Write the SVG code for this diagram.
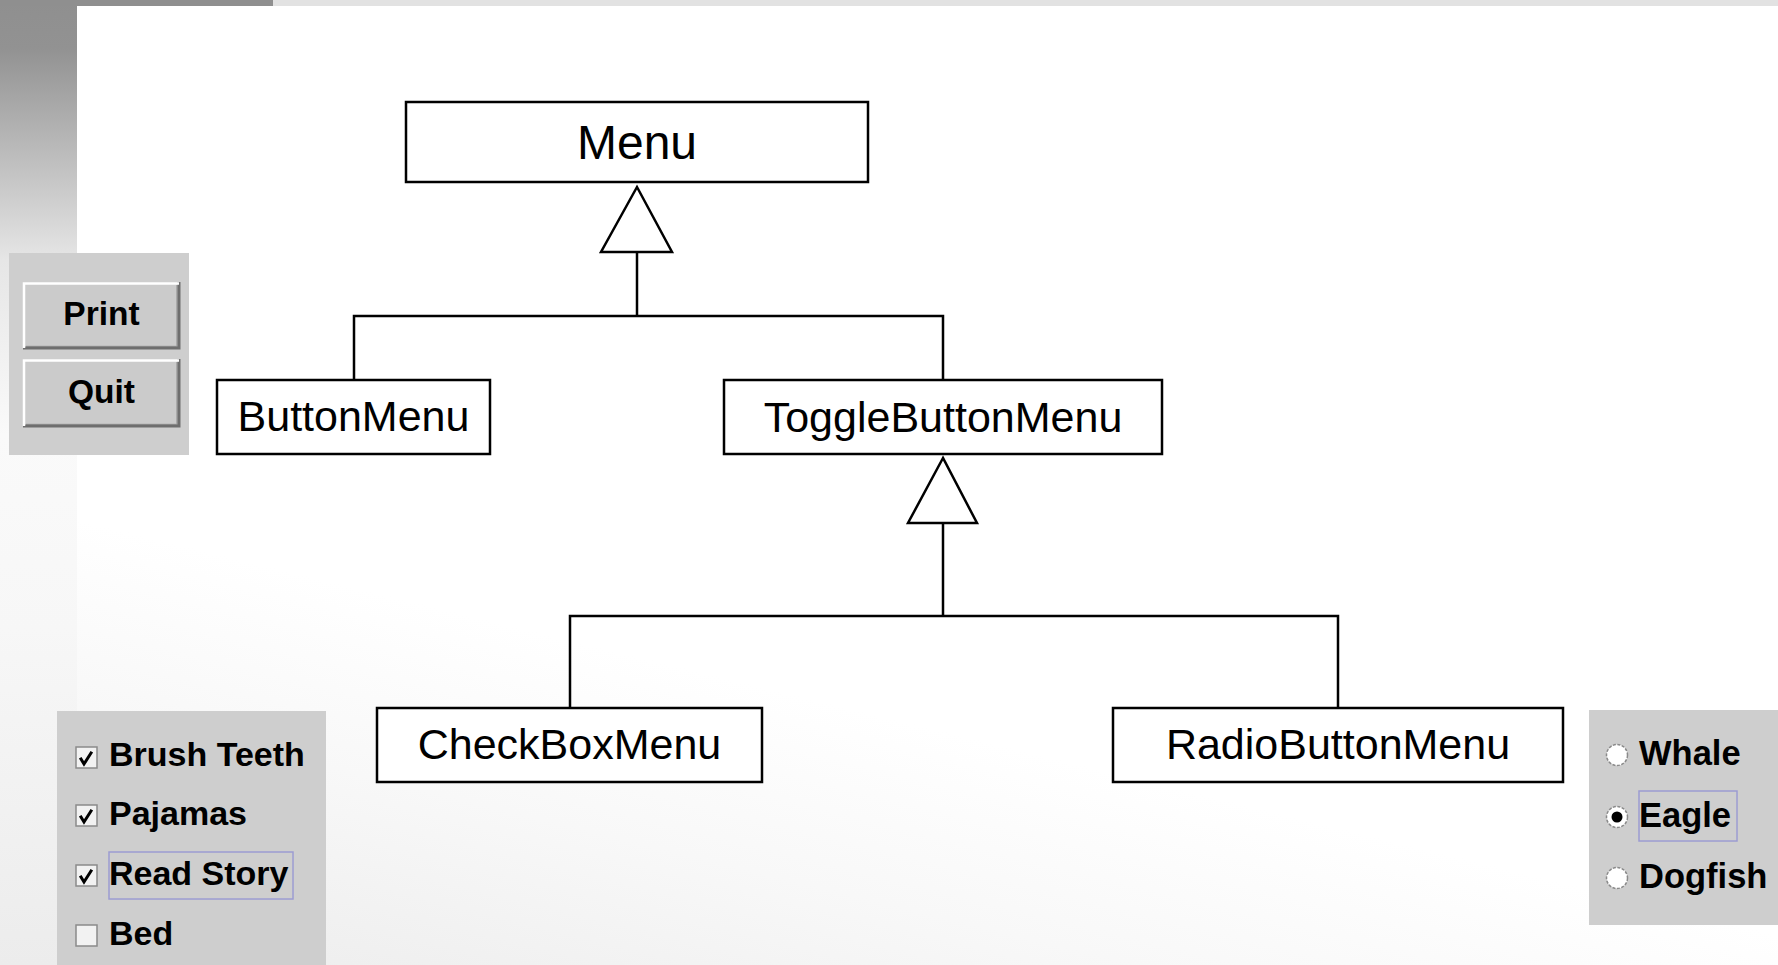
<svg xmlns="http://www.w3.org/2000/svg" width="1778" height="965" viewBox="0 0 1778 965">
  <defs>
    <linearGradient id="pageBg" x1="0" y1="1" x2="0.18" y2="0.6">
      <stop offset="0" stop-color="#ebebeb"/>
      <stop offset="0.6" stop-color="#f8f8f8"/>
      <stop offset="1" stop-color="#ffffff"/>
    </linearGradient>
    <linearGradient id="sideBar" x1="0" y1="0" x2="0" y2="1">
      <stop offset="0" stop-color="#8f8f8f"/>
      <stop offset="0.05" stop-color="#929292"/>
      <stop offset="0.27" stop-color="#e6e6e6"/>
      <stop offset="0.45" stop-color="#fafafa"/>
      <stop offset="0.65" stop-color="#f7f7f7"/>
      <stop offset="1" stop-color="#ececec"/>
    </linearGradient>
    <style>
      .box { fill: #ffffff; stroke: #000000; stroke-width: 2.5; }
      .label { font-family: "Liberation Sans", Arial, sans-serif; font-size: 43px; fill: #000000; text-anchor: middle; }
      .wire { fill: none; stroke: #000000; stroke-width: 2.5; }
      .head { fill: #ffffff; stroke: #000000; stroke-width: 2.5; stroke-linejoin: miter; }
      .panel { fill: #cecece; }
      .btnFace { fill: #cbcbcb; }
      .hi { fill: none; stroke: #ffffff; stroke-width: 2.5; }
      .lo { fill: none; stroke: #6e6e6e; stroke-width: 3; }
      .lo2 { fill: none; stroke: #a0a0a0; stroke-width: 1.5; }
      .widget { font-family: "Liberation Sans", Arial, sans-serif; font-weight: bold; font-size: 34px; fill: #000000; }
      .cbx { fill: #f2f2f2; stroke: #8a8a8a; stroke-width: 1.5; }
      .tick { fill: none; stroke: #000000; stroke-width: 3; stroke-linecap: square; }
      .radio { fill: #ffffff; stroke: #8a8a8a; stroke-width: 1.5; stroke-dasharray: 3 1.5; }
      .focus { fill: none; stroke: #9c9cd2; stroke-width: 1.5; }
    </style>
  </defs>

  <!-- page background -->
  <rect x="0" y="0" width="1778" height="965" fill="url(#pageBg)"/>
  <rect x="0" y="0" width="77" height="965" fill="url(#sideBar)"/>
  <rect x="0" y="0" width="273" height="6" fill="#8f8f8f"/>
  <rect x="273" y="0" width="1505" height="6" fill="#e2e2e2"/>

  <!-- generalisation connectors -->
  <g id="connectors">
    <polyline class="wire" points="354,380 354,316 943,316 943,380"/>
    <line class="wire" x1="637" y1="316" x2="637" y2="252"/>
    <polygon class="head" points="637,187 601,252 672,252"/>
    <polyline class="wire" points="570,708 570,616 1338,616 1338,708"/>
    <line class="wire" x1="943" y1="616" x2="943" y2="523"/>
    <polygon class="head" points="943,458 908,523 977,523"/>
  </g>

  <!-- class nodes -->
  <g id="node-menu">
    <rect class="box" x="406" y="102" width="462" height="80"/>
    <text class="label" x="637" y="159" style="font-size:48px">Menu</text>
  </g>
  <g id="node-buttonmenu">
    <rect class="box" x="217" y="380" width="273" height="74"/>
    <text class="label" x="353.5" y="431">ButtonMenu</text>
  </g>
  <g id="node-togglebuttonmenu">
    <rect class="box" x="724" y="380" width="438" height="74"/>
    <text class="label" x="943" y="432">ToggleButtonMenu</text>
  </g>
  <g id="node-checkboxmenu">
    <rect class="box" x="377" y="708" width="385" height="74"/>
    <text class="label" x="569.5" y="759">CheckBoxMenu</text>
  </g>
  <g id="node-radiobuttonmenu">
    <rect class="box" x="1113" y="708" width="450" height="74"/>
    <text class="label" x="1338" y="759">RadioButtonMenu</text>
  </g>

  <!-- push buttons sample -->
  <g id="buttons-panel">
    <rect class="panel" x="9" y="253" width="180" height="202"/>
    <rect class="btnFace" x="23" y="282" width="157" height="67"/>
    <polyline class="lo2" points="26,346.5 177,346.5 177,285"/>
    <polyline class="lo" points="23,348 179,348 179,282"/>
    <polyline class="hi" points="24,348 24,283.5 179,283.5"/>
    <text class="widget" x="101.5" y="325" text-anchor="middle" style="font-size:33.5px">Print</text>
    <rect class="btnFace" x="23" y="359" width="157" height="68"/>
    <polyline class="lo2" points="26,424.5 177,424.5 177,362"/>
    <polyline class="lo" points="23,426 179,426 179,359"/>
    <polyline class="hi" points="24,426 24,360.5 179,360.5"/>
    <text class="widget" x="101.5" y="403" text-anchor="middle" style="font-size:33.5px">Quit</text>
  </g>

  <!-- check boxes sample -->
  <g id="checkbox-panel">
    <rect class="panel" x="57" y="711" width="269" height="254" fill="#d0d0d0"/>
    <rect class="cbx" x="76" y="747" width="21" height="21"/>
    <polyline class="tick" points="81,759 84,764 91,753"/>
    <text class="widget" x="109" y="766">Brush Teeth</text>
    <rect class="cbx" x="76" y="805" width="21" height="21"/>
    <polyline class="tick" points="81,817 84,822 91,811"/>
    <text class="widget" x="109" y="825">Pajamas</text>
    <rect class="cbx" x="76" y="865" width="21" height="21"/>
    <polyline class="tick" points="81,877 84,882 91,871"/>
    <rect class="focus" x="109" y="852" width="184" height="47"/>
    <text class="widget" x="109" y="885">Read Story</text>
    <rect class="cbx" x="76" y="925" width="21" height="21"/>
    <text class="widget" x="109" y="945">Bed</text>
  </g>

  <!-- radio buttons sample -->
  <g id="radio-panel">
    <rect class="panel" x="1589" y="710" width="189" height="215"/>
    <circle class="radio" cx="1617" cy="755" r="10.5"/>
    <text class="widget" x="1639" y="765" style="font-size:34.5px">Whale</text>
    <circle class="radio" cx="1617" cy="817" r="10.5"/>
    <circle cx="1617" cy="817" r="5.5" fill="#000000"/>
    <rect class="focus" x="1639" y="791" width="98" height="50"/>
    <text class="widget" x="1639" y="827" style="font-size:34.5px">Eagle</text>
    <circle class="radio" cx="1617" cy="878" r="10.5"/>
    <text class="widget" x="1639" y="888" style="font-size:34.5px">Dogfish</text>
  </g>
</svg>
